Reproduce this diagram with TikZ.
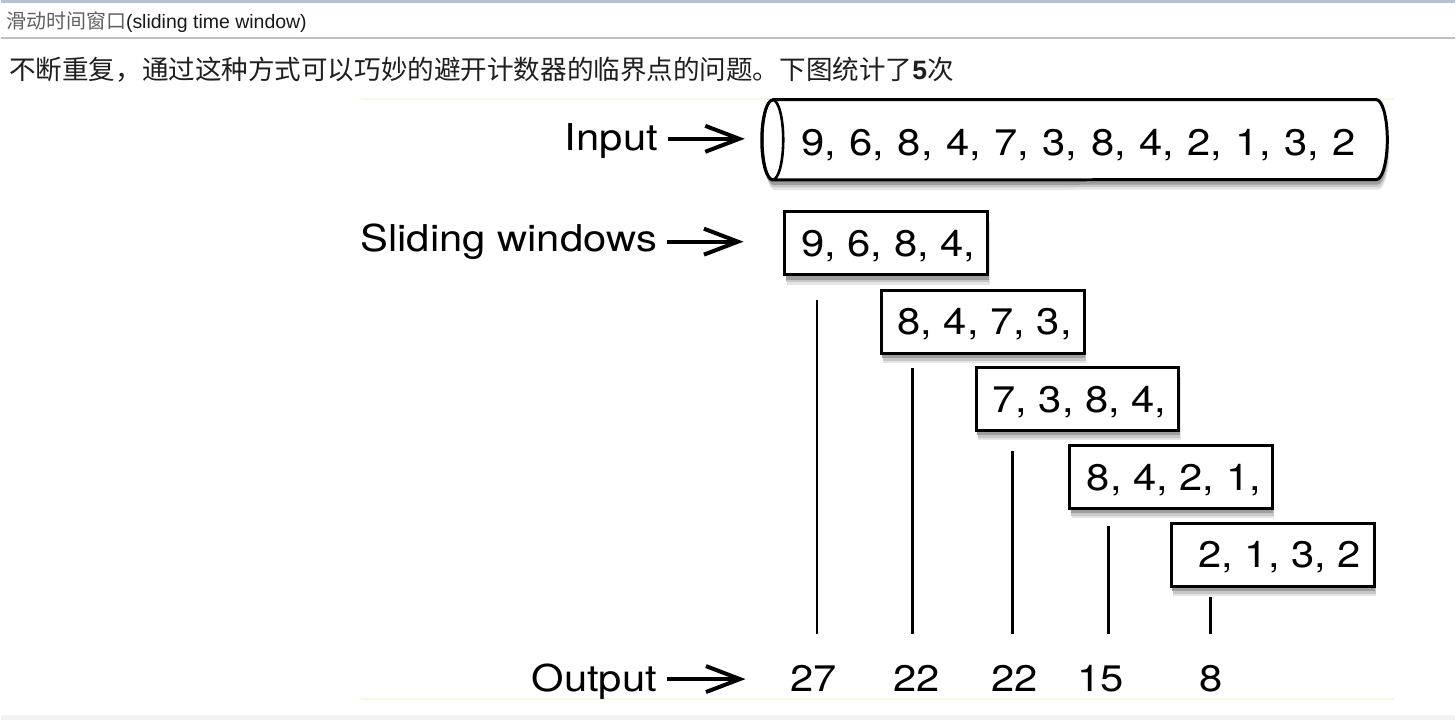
\documentclass[tikz,border=0pt]{standalone}
\usepackage{fontspec}
\setmainfont[FakeStretch=1.13]{TeX Gyre Heros}
\newfontfamily\cjk{Noto Sans CJK SC}
\newfontfamily\hdrfont{Liberation Sans}
\usetikzlibrary{arrows.meta,shadows,calc}
\definecolor{topbar}{RGB}{182,194,208}
\definecolor{faintyellow}{RGB}{250,246,222}
\newcommand\cgap{,\hspace{13.5pt}}
\begin{document}
\begin{tikzpicture}[x=1pt,y=-1pt,
  big/.style={font=\fontsize{37}{40}\selectfont},
  lbl/.style={big, inner sep=0pt, anchor=base east},
  softshadow/.style={
    general shadow={fill=black!10, draw=none, shadow xshift=2pt, shadow yshift=-10pt},
    general shadow={fill=black!22, draw=none, shadow xshift=1.5pt, shadow yshift=-7.5pt},
    general shadow={fill=black!38, draw=none, shadow xshift=1pt, shadow yshift=-5pt}},
  winbox/.style={big, draw, line width=3pt, fill=white, minimum width=203pt, minimum height=63pt,
    inner sep=0pt, text height=26.5pt, text depth=0pt, softshadow},
  outnum/.style={big, inner xsep=0pt, inner ysep=31pt, anchor=base},
  arr/.style={line width=3.8pt, -{Straight Barb[length=34pt,width=26pt,line width=4pt]}},
  vline/.style={line width=2.6pt},
  faint/.style={draw=faintyellow, line width=2pt},
]
% page
\fill[white] (0,0) rectangle (1456,721);
\fill[topbar] (0,0) rectangle (1456,3);
\draw[gray!50, line width=2pt] (0,38.5) -- (1456,38.5);
\fill[gray!10] (0,716) rectangle (1456,721);
\useasboundingbox (0,0) rectangle (1456,721);

% header texts
\node[anchor=west, inner sep=0pt] (title) at (5,22)
  {{\cjk\fontsize{20}{22}\selectfont\color{black!62}滑动时间窗口}{\hdrfont\fontsize{19.5}{22}\selectfont\color{black!90}(sliding time window)}};
\node[anchor=west, inner sep=0pt] (intro) at (8,70)
  {\cjk\fontsize{26.6}{30}\selectfont\color{black!88}不断重复，通过这种方式可以巧妙的避开计数器的临界点的问题。下图统计了{\hdrfont\bfseries 5}次};

% faint rules
\draw[faint] (360,99) -- (1395,99);
\draw[faint] (360,700) -- (1395,700);

% input cylinder
\node[minimum width=604pt, minimum height=80pt, inner sep=0pt] (cyl) at (1075,140) {};
\draw[line width=3pt, fill=white, line join=round, softshadow]
    (cyl.north west) -- (cyl.north east)
    arc[start angle=-90, end angle=90, x radius=11, y radius=40]
    -- (cyl.south west)
    arc[start angle=90, end angle=270, x radius=11, y radius=40] -- cycle;
\draw[line width=2.6pt] (cyl.west) ellipse[x radius=10.5, y radius=40];
\node[big, inner sep=0pt, text height=26.5pt, text depth=0pt] (seq) at (1079,142)
  {9\cgap 6\cgap 8\cgap 4\cgap 7\cgap 3\cgap 8\cgap 4\cgap 2\cgap 1\cgap 3\cgap 2};

% window boxes
\node[winbox] (b1) at (886.5,243.5) {\hspace{4pt}9,\ 6,\ 8,\ 4,};
\node[winbox] (b2) at (983,322) {\hspace{4pt}8,\ 4, 7,\ 3,};
\node[winbox] (b3) at (1078,399.5) {\hspace{4pt}7,\ 3,\ 8,\ 4,};
\node[winbox] (b4) at (1171.5,477.5) {\hspace{6pt}8,\ 4,\ 2, 1,};
\node[winbox] (b5) at (1273.5,555.5) {\hspace{14pt}2, 1,\ 3,\ 2};

% left labels
\node[lbl] (lin) at (658,151) {Input};
\node[lbl] (lsw) at (657,252) {Sliding windows};
\node[lbl] (lout) at (657,692) {Output};

% outputs
\node[outnum] (o1) at (814,692) {27};
\node[outnum] (o2) at (917,692) {22};
\node[outnum] (o3) at (1015,692) {22};
\node[outnum] (o4) at (1101,692) {15};
\node[outnum] (o5) at (1212,692) {8};

% arrows
\draw[arr, shorten >=28pt] ([shift={(10pt,12pt)}]lin.base east) -- ([yshift=12pt]lin.base east -| cyl.west);
\draw[arr, shorten >=40pt] ([shift={(10pt,10pt)}]lsw.base east) -- ([yshift=10pt]lsw.base east -| b1.west);
\draw[arr, shorten >=45pt] ([shift={(10pt,12pt)}]lout.base east) -- ([yshift=12pt]lout.base east -| o1.west);

% window sums
\coordinate (t1) at (817,300);
\coordinate (t2) at (913,368);
\coordinate (t3) at (1013,452);
\coordinate (t4) at (1109,527);
\coordinate (t5) at (1211,598);
\draw[vline] (t1) -- (t1 |- o1.north);
\draw[vline] (t2) -- (t2 |- o2.north);
\draw[vline] (t3) -- (t3 |- o3.north);
\draw[vline] (t4) -- (t4 |- o4.north);
\draw[vline] (t5) -- (t5 |- o5.north);
\end{tikzpicture}
\end{document}
